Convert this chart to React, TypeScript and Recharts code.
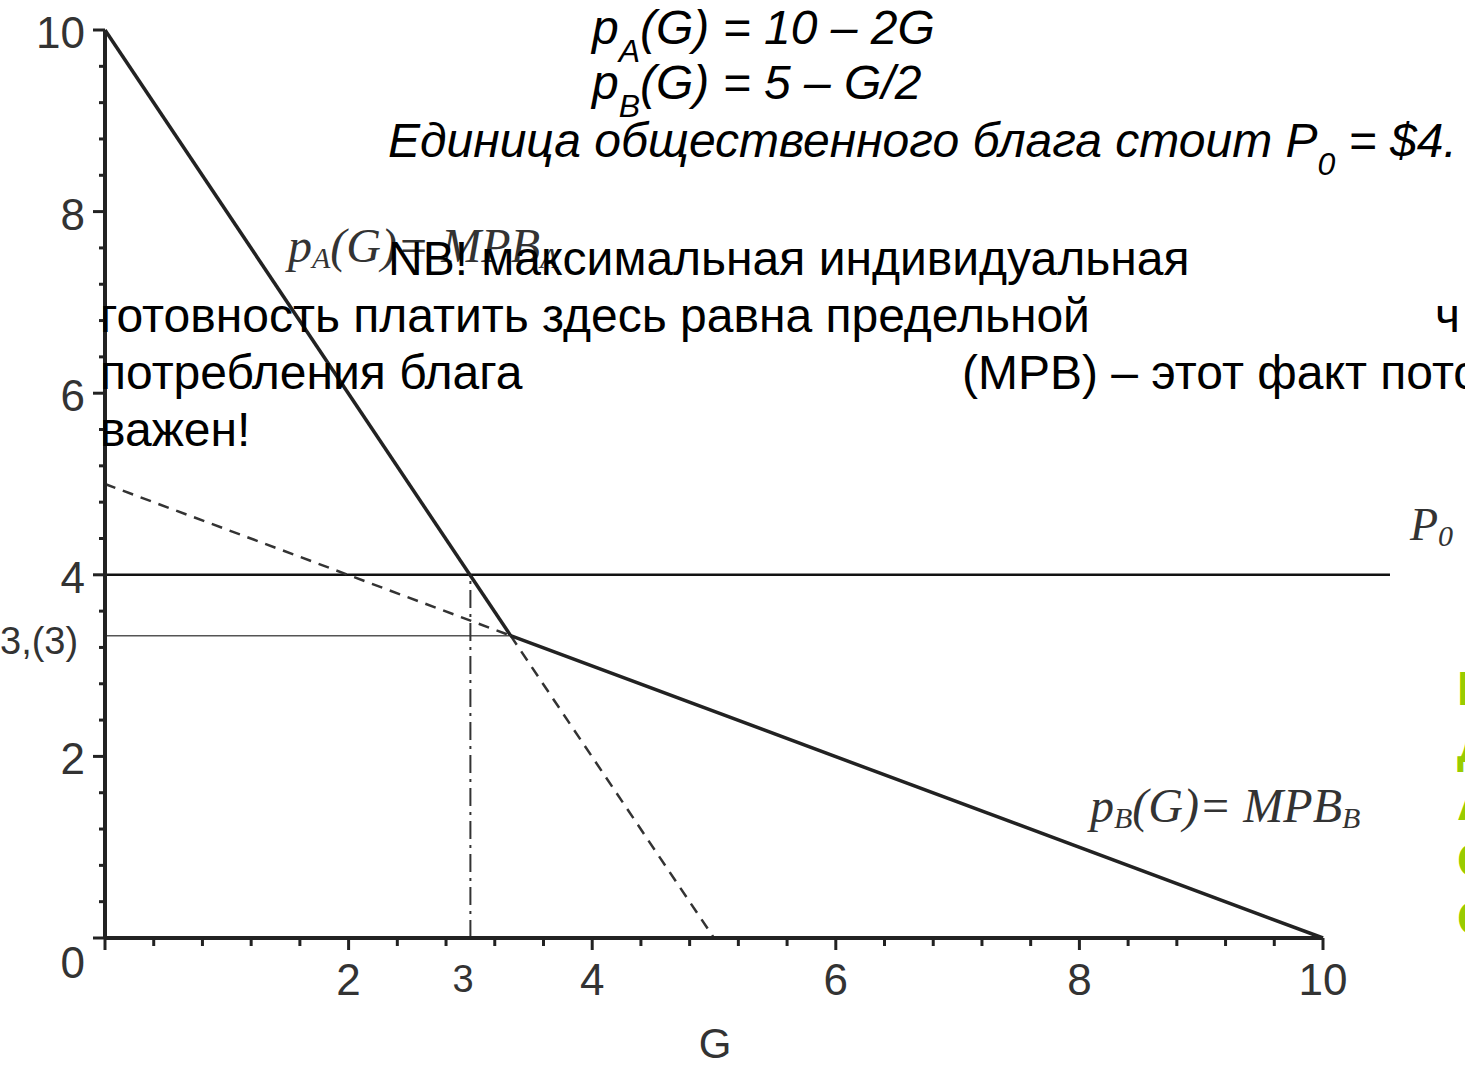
import React from 'react';
import { LineChart, Line, XAxis, YAxis, ReferenceLine } from 'recharts';

// demand curves, split where the dashed part starts
const pASolidG = [0, 3.33];
const pASolidP = [10, 3.33];
const pADashG = [3.33, 5];
const pADashP = [3.33, 0];
const pBDashG = [0, 3.33];
const pBDashP = [5, 3.33];
const pBSolidG = [3.33, 10];
const pBSolidP = [3.33, 0];

const P0 = 4;
const P0_END_G = 10.55;
const KINK_G = 3.33;
const KINK_P = 3.33;
const G_MARK = 3;

const axisTicks = [0, 0.4, 0.8, 1.2, 1.6, 2, 2.4, 2.8, 3.2, 3.6, 4, 4.4, 4.8, 5.2, 5.6, 6, 6.4, 6.8, 7.2, 7.6, 8, 8.4, 8.8, 9.2, 9.6, 10];

const zip = (gs: number[], ps: number[]) => gs.map((g, i) => ({ g, p: ps[i] }));

const W = 1465;
const H = 1066;
const SANS = '"Liberation Sans", Arial, sans-serif';
const SERIF = '"Liberation Serif", "Times New Roman", serif';
const INK = '#222';

const isMajor = (v: number) => Math.abs(v / 2 - Math.round(v / 2)) < 1e-6;

const XTick = (props: any) => {
    const { x, y, payload } = props;
    const v = payload.value;
    const major = isMajor(v);
    return (
        <g>
            <line x1={x} x2={x} y1={y} y2={y + (major ? 12 : 8)} stroke={INK} strokeWidth={3} />
            {major && v !== 0 && (
                <text x={x} y={y + 57} textAnchor="middle" fontFamily={SANS} fontSize={44} fill="#333">{v}</text>
            )}
        </g>
    );
};

const YTick = (props: any) => {
    const { x, y, payload } = props;
    const v = payload.value;
    const major = isMajor(v);
    return (
        <g>
            <line x1={x - (major ? 12 : 6)} x2={x} y1={y} y2={y} stroke={INK} strokeWidth={3} />
            {major && (
                <text x={x - 20} y={y + (v === 0 ? 40 : 18)} textAnchor="end" fontFamily={SANS} fontSize={44} fill="#333">{v}</text>
            )}
        </g>
    );
};

export default function App() {
    return (
        <div style={{ position: 'absolute', left: 0, top: 0, width: W, height: H, overflow: 'hidden', background: '#fff' }}>
            <LineChart width={W} height={H} margin={{ top: 30, right: 142, bottom: 68, left: 45 }}>
                <XAxis
                    dataKey="g"
                    type="number"
                    domain={[0, 10]}
                    ticks={axisTicks}
                    interval={0}
                    tickSize={0}
                    tickMargin={0}
                    tickLine={false}
                    tick={<XTick />}
                    axisLine={{ stroke: INK, strokeWidth: 4 }}
                    height={60}
                />
                <YAxis
                    type="number"
                    domain={[0, 10]}
                    ticks={axisTicks}
                    interval={0}
                    tickSize={0}
                    tickMargin={0}
                    tickLine={false}
                    tick={<YTick />}
                    axisLine={{ stroke: INK, strokeWidth: 4 }}
                    width={60}
                />
                {/* price of the good */}
                <ReferenceLine segment={[{ x: 0, y: P0 }, { x: P0_END_G, y: P0 }]} stroke="#111" strokeWidth={2.5} ifOverflow="visible" />
                {/* kink level */}
                <ReferenceLine segment={[{ x: 0, y: KINK_P }, { x: KINK_G, y: KINK_P }]} stroke="#555" strokeWidth={1.5} ifOverflow="visible" />
                {/* G = 3 */}
                <ReferenceLine segment={[{ x: G_MARK, y: 0 }, { x: G_MARK, y: P0 }]} stroke="#333" strokeWidth={2} strokeDasharray="18 6 3 6" ifOverflow="visible" />

                <Line data={zip(pASolidG, pASolidP)} dataKey="p" stroke={INK} strokeWidth={3.5} dot={false} isAnimationActive={false} />
                <Line data={zip(pADashG, pADashP)} dataKey="p" stroke="#333" strokeWidth={2.5} strokeDasharray="11 8" dot={false} isAnimationActive={false} />
                <Line data={zip(pBDashG, pBDashP)} dataKey="p" stroke="#333" strokeWidth={2.5} strokeDasharray="11 8" dot={false} isAnimationActive={false} />
                <Line data={zip(pBSolidG, pBSolidP)} dataKey="p" stroke={INK} strokeWidth={3.5} dot={false} isAnimationActive={false} />
            </LineChart>

            <svg width={W} height={H} style={{ position: 'absolute', left: 0, top: 0, pointerEvents: 'none' }}>
                {/* axis annotations */}
                <text x={0} y={654} fontFamily={SANS} fontSize={38} fill="#333">3,(3)</text>
                <text x={463} y={992} textAnchor="middle" fontFamily={SANS} fontSize={38} fill="#333">3</text>
                <text x={715} y={1058} textAnchor="middle" fontFamily={SANS} fontSize={42} fill="#333">G</text>

                {/* curve labels */}
                <text x={288} y={262} fontFamily={SERIF} fontStyle="italic" fontSize={48} fill="#333">
                    p<tspan fontSize={30} dy={6}>A</tspan><tspan dy={-6}>(G)= MPB</tspan><tspan fontSize={30} dy={6}>A</tspan>
                </text>
                <text x={1090} y={822} fontFamily={SERIF} fontStyle="italic" fontSize={48} fill="#333">
                    p<tspan fontSize={30} dy={6}>B</tspan><tspan dy={-6}>(G)= MPB</tspan><tspan fontSize={30} dy={6}>B</tspan>
                </text>
                <text x={1410} y={540} fontFamily={SERIF} fontStyle="italic" fontSize={46} fill="#333">
                    P<tspan fontSize={30} dy={6}>0</tspan>
                </text>

                {/* slide text */}
                <g fontFamily={SANS} fontSize={48} fill="#000">
                    <text x={592} y={44} fontStyle="italic">
                        p<tspan fontSize={32} dy={18}>A</tspan><tspan dy={-18}>(G) = 10 – 2G</tspan>
                    </text>
                    <text x={592} y={99} fontStyle="italic">
                        p<tspan fontSize={32} dy={18}>B</tspan><tspan dy={-18}>(G) = 5 – G/2</tspan>
                    </text>
                    <text x={388} y={157} fontStyle="italic">
                        Единица общественного блага стоит P<tspan fontSize={32} dy={18}>0</tspan><tspan dy={-18}> = $4.</tspan>
                    </text>
                    <text x={388} y={275}>NB! максимальная индивидуальная</text>
                    <text x={100} y={332}>готовность платить здесь равна предельной</text>
                    <text x={1435} y={332}>ч</text>
                    <text x={100} y={389}>потребления блага</text>
                    <text x={962} y={389}>(MPB) – этот факт пото</text>
                    <text x={100} y={446}>важен!</text>
                </g>
                <g fontFamily={SANS} fontSize={48} fontWeight="bold" fill="#99CC00">
                    <text x={1457} y={705}>П</text>
                    <text x={1457} y={762}>Д</text>
                    <text x={1457} y={820}>А</text>
                    <text x={1457} y={877}>С</text>
                    <text x={1457} y={935}>С</text>
                </g>
            </svg>
        </div>
    );
}
